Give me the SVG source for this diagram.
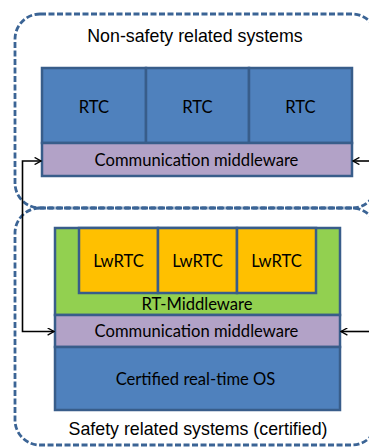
<svg xmlns="http://www.w3.org/2000/svg" width="369" height="448" viewBox="0 0 369 448">
<style>
.frame{fill:none;stroke:#3b6495;stroke-width:2.8;stroke-dasharray:6 2.5}
.blk{stroke:#385d8a;stroke-width:2.5}
.blue{fill:#4f81bd}
.purple{fill:#b2a2c7}
.green{fill:#92d050}
.orange{fill:#ffc000}
.lbl{font-family:Lato,"Open Sans",sans-serif;font-size:16.6px;fill:#000;text-anchor:middle}
.ttl{font-family:"Liberation Sans",Arial,sans-serif;font-size:17.8px;fill:#000;text-anchor:middle}
.con{fill:none;stroke:#000;stroke-width:1.6}
</style>
<defs>
<marker id="ah" viewBox="0 0 10 10" refX="9" refY="5" markerWidth="8" markerHeight="8" markerUnits="userSpaceOnUse" orient="auto-start-reverse">
<path d="M1,0.5 L9,5 L1,9.5" fill="none" stroke="#000" stroke-width="1.6"/>
</marker>
</defs>
<g id="nonsafety">
<rect class="frame" x="15" y="14" width="362" height="194" rx="25" ry="25"/>
<text class="ttl" x="195" y="42">Non-safety related systems</text>
</g>
<g id="safety">
<rect class="frame" x="15" y="208" width="362" height="237" rx="25" ry="25"/>
<text class="ttl" x="198" y="435">Safety related systems (certified)</text>
</g>
<g id="rtc1"><rect class="blk blue" x="42" y="68" width="104" height="75"/><text class="lbl" x="94" y="113">RTC</text></g>
<g id="rtc2"><rect class="blk blue" x="146" y="68" width="103" height="75"/><text class="lbl" x="197.5" y="113">RTC</text></g>
<g id="rtc3"><rect class="blk blue" x="249" y="68" width="103" height="75"/><text class="lbl" x="300.5" y="113">RTC</text></g>
<g id="comm-top"><rect class="blk purple" x="42" y="143" width="310" height="33"/><text class="lbl" x="196.5" y="166">Communication middleware</text></g>
<g id="rt-middleware"><rect class="blk green" x="55" y="228" width="285" height="87"/><text class="lbl" x="197" y="310">RT-Middleware</text></g>
<g id="lwrtc1"><rect class="blk orange" x="79" y="228" width="79" height="65"/><text class="lbl" x="118.5" y="267">LwRTC</text></g>
<g id="lwrtc2"><rect class="blk orange" x="158" y="228" width="79" height="65"/><text class="lbl" x="197.5" y="267">LwRTC</text></g>
<g id="lwrtc3"><rect class="blk orange" x="237" y="228" width="79" height="65"/><text class="lbl" x="276.5" y="267">LwRTC</text></g>
<g id="comm-bottom"><rect class="blk purple" x="55" y="315" width="285" height="32"/><text class="lbl" x="196.5" y="337">Communication middleware</text></g>
<g id="os"><rect class="blk blue" x="55" y="347" width="285" height="63"/><text class="lbl" x="195.5" y="385">Certified real-time OS</text></g>
<g id="connectors">
<path class="con" d="M54,331.5 H22.5 V161 H41" marker-start="url(#ah)" marker-end="url(#ah)"/>
<path class="con" d="M372,161 H353" marker-end="url(#ah)"/>
<path class="con" d="M372,331.5 H341" marker-end="url(#ah)"/>
</g>
</svg>
